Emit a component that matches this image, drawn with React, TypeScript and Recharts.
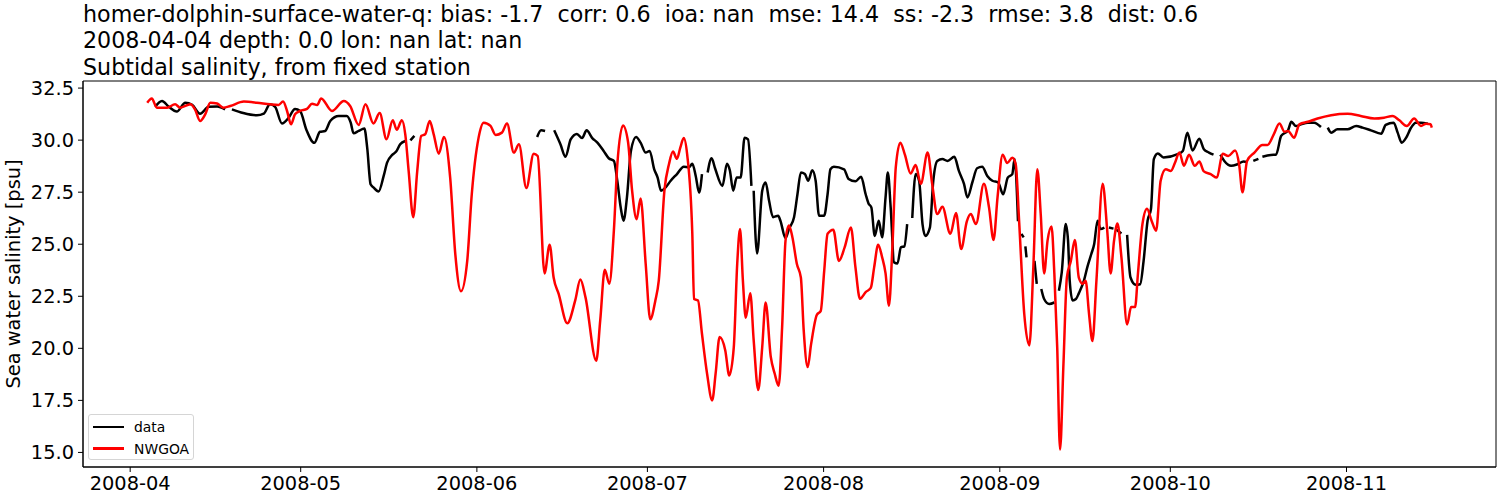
import { LineChart, Line, XAxis, YAxis, ReferenceArea } from 'recharts';

const FONT = '"DejaVu Sans", sans-serif';

const titleLines = [
  'homer-dolphin-surface-water-q: bias: -1.7  corr: 0.6  ioa: nan  mse: 14.4  ss: -2.3  rmse: 3.8  dist: 0.6',
  '2008-04-04 depth: 0.0 lon: nan lat: nan',
  'Subtidal salinity, from fixed station',
];

// x is days since 2008-04-01
const monthTicks = [0, 30, 61, 91, 122, 153, 183, 214];
const monthLabels = ['2008-04', '2008-05', '2008-06', '2008-07', '2008-08', '2008-09', '2008-10', '2008-11'];
const salinityTicks = [15, 17.5, 20, 22.5, 25, 27.5, 30, 32.5];

const X_DOMAIN: [number, number] = [-8.3, 240.3];
const Y_DOMAIN: [number, number] = [14.3, 32.84];

// observed ("data"), null = missing
const obsDays = [
  4.4, 5.6, 6.8, 8.2, 9.7, 10.9, 12.3, 13.8, 15.3, 16.7, 17.2, 17.9, 19.9, 22.3, 23.5, 24.6, 25.5, 26.7, 27.9, 29.0,
  29.9, 31.0, 32.4, 33.4, 34.3, 35.2, 36.7, 38.1, 38.8, 39.3, 40.2, 41.2, 41.7, 42.3, 42.8, 43.7, 44.6, 45.2, 46.1, 46.8,
  47.5, 48.4, 48.8, 49.3, 50.0, 50.5, 71.6, 72.3, 73.0, 73.4, 74.6, 75.7, 76.6, 77.5, 78.6, 79.5, 80.3, 81.3, 82.2, 83.3,
  84.2, 85.1, 85.7, 86.3, 86.8, 87.4, 88.1, 89.0, 89.8, 90.7, 91.4, 92.2, 92.8, 93.4, 94.2, 95.1, 96.2, 97.4, 98.3, 98.9,
  99.5, 100.1, 100.6, 101.0, 101.6, 102.3, 102.9, 104.2, 105.0, 105.5, 106.1, 106.7, 107.4, 108.1, 108.7, 109.3, 109.5, 109.7, 110.3, 111.2,
  111.8, 112.4, 113.1, 114.0, 114.4, 115.3, 115.9, 116.8, 117.4, 118.0, 118.7, 119.3, 120.0, 120.6, 121.2, 122.1, 122.7, 123.2, 123.8, 125.6,
  126.4, 127.6, 128.6, 129.4, 129.9, 130.4, 131.0, 131.7, 132.3, 132.9, 133.3, 133.8, 134.4, 135.0, 135.6, 136.2, 136.7, 137.1, 137.6, 138.2,
  138.8, 139.4, 139.9, 140.7, 141.3, 142.0, 142.9, 143.8, 145.0, 145.8, 146.7, 147.3, 148.2, 149.0, 149.9, 150.8, 151.7, 152.7, 153.6, 154.4,
  155.2, 155.6, 156.2, 156.5, 156.8, 157.2, 157.4, 157.5, 157.7, 158.2, 159.1, 159.5, 159.8, 160.3, 160.8, 161.7, 162.6, 163.0, 163.4, 163.9,
  164.6, 165.0, 165.3, 165.8, 166.4, 166.9, 167.8, 168.4, 169.1, 169.6, 170.2, 170.7, 171.4, 171.8, 172.2, 173.0, 173.2, 173.4, 174.4, 174.8,
  175.4, 176.0, 176.9, 177.7, 178.3, 179.0, 179.6, 180.1, 180.8, 181.8, 184.3, 185.2, 186.0, 186.9, 188.1, 188.9, 189.8, 190.6, 191.2, 191.8,
  192.5, 193.7, 194.8, 195.9, 196.4, 196.9, 197.6, 198.5, 198.9, 199.2, 200.7, 201.6, 202.5, 203.7, 204.3, 205.1, 206.0, 207.2, 208.3, 209.5,
  209.9, 210.7, 211.3, 212.4, 214.2, 215.7, 216.8, 218.3, 220.1, 220.9, 222.3, 223.0, 223.7, 224.5, 225.3, 226.2, 227.1, 228.3,
];
const obsSalinity = [
  31.6, 31.88, 31.6, 31.37, 31.8, 31.7, 31.27, 31.6, 31.62, 31.48, null, 31.48, 31.3, 31.19, 31.27, 31.72, 31.6, 30.8, 31.08, 31.5,
  31.4, 30.5, 29.87, 30.4, 30.44, 30.92, 31.16, 31.16, 30.84, 30.33, 30.44, 30.56, 29.64, 27.88, 27.73, 27.53, 28.28, 28.92, 29.29, 29.45,
  29.8, 29.96, null, 29.99, 30.2, null, 30.15, 30.47, 30.44, null, 30.47, 29.8, 29.2, 30.04, 30.3, 30.1, 30.47, 30.1, 29.88, 29.48,
  29.13, 29.0, 28.05, 26.77, 26.13, 27.25, 29.48, 30.15, 29.88, 29.4, 29.48, 28.6, 28.2, 27.57, 27.73, 28.05, 28.37, 28.72, 28.69, 28.87,
  28.28, 27.48, 28.37, null, 28.45, 29.13, 28.65, 27.8, 28.87, 28.55, 27.57, 28.2, 28.2, 30.12, 30.04, 27.8, null, 27.57, 24.56, 27.57,
  27.97, 27.1, 26.3, 26.37, 26.13, 25.3, 25.73, 26.3, 27.4, 28.45, 28.37, 28.05, 28.55, 28.05, 26.37, 26.37, 27.4, 28.6, 28.72, 28.6,
  28.13, 28.02, 28.24, 27.4, 26.96, 26.77, 25.4, 26.13, 25.33, 27.25, 28.45, 26.77, 24.13, 24.08, 24.85, 24.9, 25.97, null, 26.26, 28.37,
  28.05, 25.97, 25.4, 25.8, 28.05, 29.0, 29.09, 29.0, 29.2, 28.52, 27.9, 27.25, 28.0, 28.65, 28.72, 28.28, 28.05, 27.97, 27.4, 28.2,
  28.37, 29.09, 26.1, null, 25.5, 25.33, null, 24.9, 24.37, null, 24.2, 23.1, null, 22.85, 22.37, 22.13, 22.2, null, 22.77, 23.65,
  25.97, 25.2, 23.25, 22.3, 22.37, 22.64, 23.25, 23.9, 24.53, 25.0, 26.13, 25.73, 25.8, null, 25.8, 25.75, null, 25.72, 25.52, null,
  25.45, 23.4, 23.05, 23.08, 24.2, 26.13, 26.7, 29.09, 29.36, 29.17, 29.33, 29.48, 30.36, 29.5, 30.07, 29.56, 29.4, 29.3, null, 29.3,
  29.0, 28.77, 28.84, 28.97, 28.95, null, 29.0, 29.1, null, 29.2, 29.29, 29.3, 30.2, 30.47, 30.88, 30.68, 30.76, 30.84, 30.84, 30.63,
  null, 30.6, 30.36, 30.52, 30.52, 30.68, 30.6, 30.47, 30.31, 30.73, 30.84, 30.36, 29.88, 30.12, 30.57, 30.84, 30.84, 30.79,
];

// NWGOA model
const modelDays = [
  3.0, 3.8, 4.7, 6.5, 7.9, 8.8, 10.6, 11.4, 12.3, 13.2, 14.1, 15.3, 16.4, 17.6, 20.0, 22.3, 24.6, 26.1, 26.9, 27.6,
  28.3, 29.0, 29.9, 31.1, 32.0, 32.9, 33.6, 35.5, 37.6, 38.7, 40.2, 41.4, 42.8, 43.9, 45.1, 46.2, 46.9, 47.8, 48.4, 49.0,
  49.8, 50.5, 51.2, 51.9, 52.7, 53.4, 54.3, 55.2, 56.3, 57.2, 58.2, 59.3, 60.1, 61.3, 62.2, 63.4, 64.3, 65.4, 66.3, 67.5,
  68.4, 69.7, 71.0, 71.7, 72.9, 73.8, 74.5, 75.4, 76.9, 78.3, 79.2, 80.1, 82.0, 82.7, 83.5, 84.3, 85.1, 85.7, 86.7, 87.6,
  88.3, 89.1, 89.8, 90.7, 91.5, 92.4, 93.0, 94.0, 94.8, 95.5, 96.2, 96.8, 97.4, 98.0, 98.9, 99.2, 99.9, 100.6, 101.5, 102.4,
  103.0, 103.7, 104.7, 105.4, 106.2, 106.8, 107.3, 107.8, 108.3, 109.1, 109.7, 110.5, 111.2, 111.8, 112.7, 113.4, 114.1, 114.7, 115.3, 115.9,
  116.5, 117.3, 118.0, 118.5, 119.2, 119.8, 120.8, 121.5, 122.1, 122.7, 123.7, 124.7, 125.7, 126.8, 127.6, 128.4, 129.4, 130.3, 130.9, 131.6,
  132.3, 132.9, 133.5, 134.1, 134.7, 135.5, 136.3, 137.3, 138.2, 139.1, 140.3, 141.1, 142.0, 142.9, 144.3, 145.3, 146.2, 147.2, 147.9, 148.8,
  150.2, 151.1, 151.9, 152.6, 153.5, 154.3, 155.2, 155.8, 156.4, 157.3, 158.2, 158.9, 159.6, 160.2, 160.8, 161.4, 162.1, 162.6, 163.1, 163.6,
  164.2, 164.8, 165.5, 166.2, 166.9, 167.6, 168.1, 168.7, 169.3, 170.0, 171.1, 171.9, 172.5, 173.1, 173.7, 174.4, 175.4, 176.1, 176.8, 177.3,
  178.1, 178.9, 179.7, 180.5, 181.3, 182.2, 183.1, 183.8, 184.6, 185.4, 186.3, 187.3, 188.1, 188.9, 190.1, 191.2, 192.2, 193.2, 194.4, 195.1,
  195.7, 196.5, 197.8, 199.2, 200.1, 201.2, 202.2, 203.1, 203.7, 204.8, 205.7, 207.2, 208.9, 211.3, 214.2, 216.5, 218.9, 220.6, 222.1, 223.3,
  224.6, 225.9, 227.1, 228.0, 228.8, 229.0,
];
const modelSalinity = [
  31.8, 32.0, 31.56, 31.56, 31.72, 31.56, 31.72, 31.48, 30.92, 31.24, 31.8, 31.76, 31.56, 31.64, 31.85, 31.8, 31.72, 31.69, 31.85, 31.4,
  30.76, 31.24, 31.4, 31.5, 31.75, 31.69, 32.0, 31.4, 31.88, 31.64, 30.73, 31.72, 30.8, 31.3, 30.04, 30.95, 30.5, 30.95, 30.28, 28.5,
  26.3, 28.5, 30.2, 30.28, 30.92, 30.28, 29.35, 30.15, 28.2, 24.53, 22.74, 24.2, 27.4, 30.12, 30.84, 30.68, 30.25, 30.36, 30.8, 29.4,
  29.8, 27.7, 29.35, 29.24, 23.6, 24.98, 23.4, 22.6, 21.2, 22.3, 23.3, 22.46, 19.4, 21.34, 23.77, 23.1, 25.65, 28.8, 30.7, 29.9,
  27.6, 26.2, 27.2, 24.05, 21.4, 22.3, 23.25, 27.6, 28.85, 29.45, 29.1, 29.65, 30.1, 29.3, 25.5, 22.37, 22.3, 20.7, 18.78, 17.5,
  18.78, 20.54, 19.9, 18.7, 20.06, 24.05, 25.73, 23.25, 21.47, 22.65, 20.38, 18.0, 20.06, 22.2, 19.6, 18.78, 18.2, 21.0, 25.17, 25.9,
  25.35, 24.05, 23.4, 20.86, 19.1, 20.2, 21.6, 21.8, 23.7, 25.5, 25.7, 24.2, 24.85, 25.8, 23.9, 22.38, 22.7, 22.9, 23.9, 24.98,
  24.37, 23.6, 22.05, 24.85, 28.7, 29.88, 29.3, 28.4, 28.8, 27.9, 29.4, 27.9, 26.45, 26.8, 25.5, 26.5, 24.77, 26.1, 26.45, 25.97,
  27.9, 26.77, 25.2, 27.25, 29.3, 28.9, 29.15, 28.84, 26.1, 21.66, 20.14, 23.9, 28.6, 26.45, 23.6, 25.17, 25.85, 23.57, 20.06, 15.14,
  19.26, 23.4, 24.2, 25.2, 23.4, 23.1, 23.25, 21.66, 20.35, 23.25, 27.9, 25.65, 23.6, 25.17, 26.0, 24.37, 21.15, 21.98, 21.98, 23.57,
  25.97, 26.7, 26.13, 25.65, 28.05, 28.6, 28.52, 28.9, 29.4, 28.77, 29.3, 28.77, 28.97, 28.5, 28.37, 28.2, 29.35, 29.24, 29.5, 28.84,
  27.5, 29.0, 29.4, 29.77, 29.77, 30.28, 30.8, 30.4, 30.44, 30.12, 30.76, 30.88, 31.04, 31.2, 31.27, 31.16, 31.04, 31.08, 31.16, 30.95,
  30.68, 31.04, 30.68, 30.79, 30.76, 30.6,
];

const obsData = obsDays.map((t, i) => ({ t, v: obsSalinity[i] }));
const modelData = modelDays.map((t, i) => ({ t, v: modelSalinity[i] }));

const series = [
  { name: 'data', color: '#000000', data: obsData },
  { name: 'NWGOA', color: '#ff0000', data: modelData },
];

const tickStyle = { fontSize: 19.4, fill: '#000', fontFamily: FONT };

function YLabel({ viewBox }: any) {
  const cx = viewBox.x + 13;
  const cy = viewBox.y + viewBox.height / 2;
  return (
    <text
      x={cx}
      y={cy}
      transform={`rotate(-90 ${cx} ${cy})`}
      textAnchor="middle"
      dominantBaseline="central"
      fontSize={19.4}
      fontFamily={FONT}
      fill="#000"
    >
      Sea water salinity [psu]
    </text>
  );
}

export default function App() {
  return (
    <div style={{ position: 'relative', width: 1500, height: 500, background: '#fff', fontFamily: FONT }}>
      <style>{'body { margin: 0; }'}</style>
      <div style={{ position: 'absolute', left: 0, top: 0 }}>
        <LineChart width={1500} height={500} margin={{ top: 81, right: 4, bottom: 0, left: 0 }}>
          <XAxis
            type="number"
            dataKey="t"
            domain={X_DOMAIN}
            ticks={monthTicks}
            interval={0}
            tickFormatter={(v) => monthLabels[monthTicks.indexOf(v)]}
            allowDataOverflow
            height={33}
            tickSize={5}
            tickMargin={4}
            tick={tickStyle}
            axisLine={{ stroke: '#000' }}
            tickLine={{ stroke: '#000' }}
          />
          <YAxis
            type="number"
            domain={Y_DOMAIN}
            ticks={salinityTicks}
            interval={0}
            tickFormatter={(v) => v.toFixed(1)}
            allowDataOverflow
            width={83}
            tickSize={5}
            tickMargin={4}
            tick={tickStyle}
            axisLine={{ stroke: '#000' }}
            tickLine={{ stroke: '#000' }}
            label={<YLabel />}
          />
          <ReferenceArea
            x1={X_DOMAIN[0]}
            x2={X_DOMAIN[1]}
            y1={Y_DOMAIN[0]}
            y2={Y_DOMAIN[1]}
            fill="none"
            fillOpacity={0}
            stroke="#000"
            strokeWidth={1}
            ifOverflow="visible"
          />
          {series.map((s) => (
            <Line
              key={s.name}
              data={s.data}
              dataKey="v"
              name={s.name}
              type="monotone"
              stroke={s.color}
              strokeWidth={2.5}
              dot={false}
              connectNulls={false}
              isAnimationActive={false}
            />
          ))}
        </LineChart>
      </div>
      <svg width={1500} height={80} style={{ position: 'absolute', left: 0, top: 0 }}>
        {titleLines.map((line, i) => (
          <text key={i} x={83} y={21.7 + i * 26.5} fontSize={22.2} fontFamily={FONT} fill="#000" style={{ whiteSpace: 'pre' }}>
            {line}
          </text>
        ))}
      </svg>
      <div
        style={{
          position: 'absolute',
          left: 88,
          top: 414,
          width: 104,
          height: 44,
          border: '1px solid #d5d5d5',
          borderRadius: 3,
          background: 'rgba(255,255,255,0.8)',
        }}
      >
        {series.map((s, i) => (
          <div key={s.name} style={{ position: 'absolute', left: 4, top: 3 + i * 21.7, height: 18, display: 'flex', alignItems: 'center' }}>
            <div style={{ width: 31, height: 2.5, background: s.color }} />
            <span style={{ marginLeft: 10, fontSize: 13.9, color: '#000', fontFamily: FONT }}>{s.name}</span>
          </div>
        ))}
      </div>
    </div>
  );
}
